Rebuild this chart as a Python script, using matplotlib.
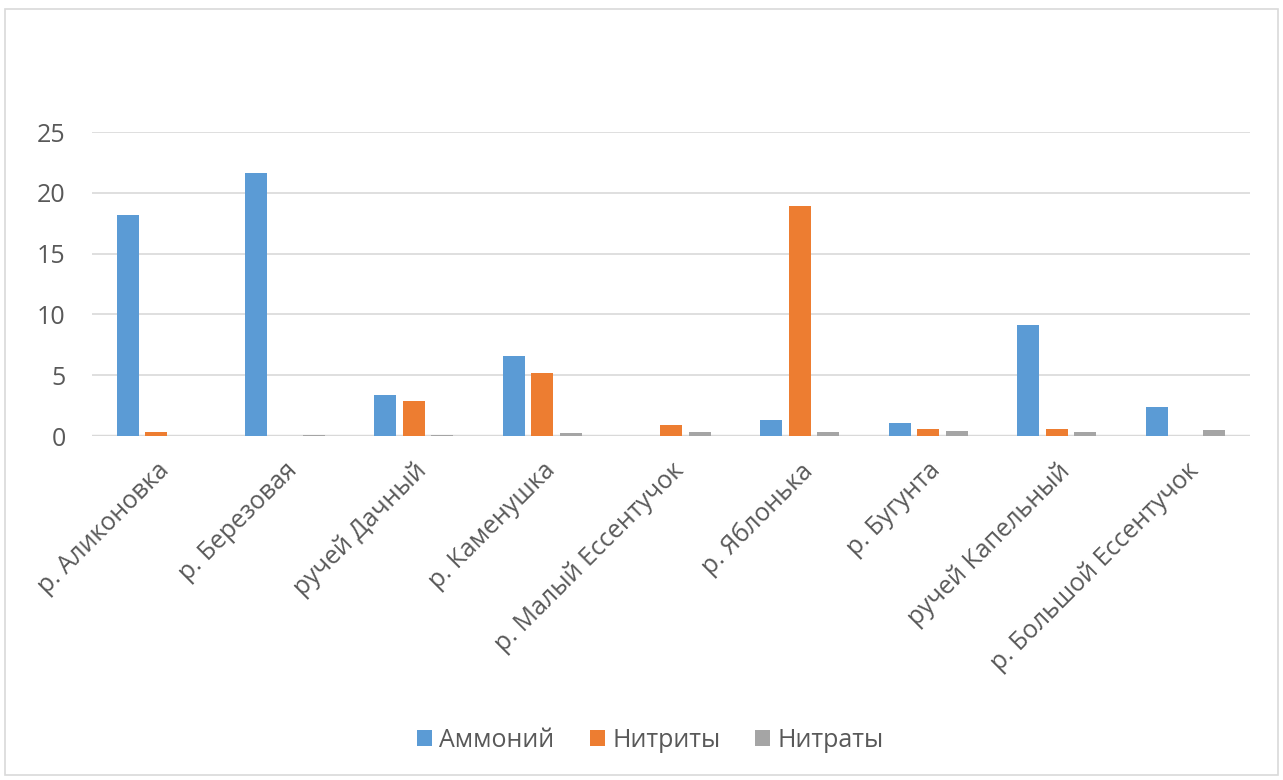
import matplotlib.pyplot as plt
from matplotlib.patches import Rectangle
import numpy as np

plt.rcParams['font.family'] = ['Open Sans', 'DejaVu Sans']

# Concentrations by river / stream
rivers = ["р. Аликоновка", "р. Березовая", "ручей Дачный", "р. Каменушка",
          "р. Малый Ессентучок", "р. Яблонька", "р. Бугунта",
          "ручей Капельный", "р. Большой Ессентучок"]
ammonium = [18.2, 21.6, 3.4, 6.6, 0.0, 1.3, 1.05, 9.1, 2.4]
nitrites = [0.35, 0.0, 2.85, 5.2, 0.9, 18.9, 0.55, 0.55, 0.0]
nitrates = [0.0, 0.12, 0.12, 0.25, 0.33, 0.33, 0.4, 0.3, 0.47]

series = [("Аммоний", ammonium, "#5b9bd5"),
          ("Нитриты", nitrites, "#ed7d31"),
          ("Нитраты", nitrates, "#a5a5a5")]

fig = plt.figure(figsize=(12.83, 7.8), dpi=100)
ax = fig.add_axes([0.0717, 0.441, 0.9025, 0.3897])

# outer chart border
fig.patches.append(Rectangle((0.004, 0.006), 0.992, 0.982, transform=fig.transFigure,
                             fill=False, edgecolor="#d9d9d9", linewidth=1.2))

x = np.arange(len(rivers))
width = 0.171
step = 0.222
for i, (name, vals, color) in enumerate(series):
    ax.bar(x + (i - 1) * step, vals, width, color=color, label=name, zorder=3)

ax.set_xlim(-0.5, len(rivers) - 0.5)
ax.set_ylim(0, 25)
ax.set_yticks(range(0, 26, 5))
ax.grid(axis='y', color="#d9d9d9", linewidth=1.2, zorder=0)
ax.axhline(0, color="#d9d9d9", linewidth=2.5, zorder=2)
for s in ax.spines.values():
    s.set_visible(False)
ax.tick_params(axis='both', length=0, labelsize=18, colors="#595959")
ax.tick_params(axis='y', pad=19)
ax.tick_params(axis='x', pad=16)
ax.set_xticks(x)
ax.set_xticklabels(rivers, rotation=45, ha='right', rotation_mode='anchor')

handles, labels = ax.get_legend_handles_labels()
fig.legend(handles, labels, loc='center', bbox_to_anchor=(0.507, 0.051), ncol=3,
           frameon=False, fontsize=18, labelcolor="#595959", handlelength=0.6,
           handleheight=0.6, handletextpad=0.3, columnspacing=1.4)

plt.savefig("out.png", dpi=100)
